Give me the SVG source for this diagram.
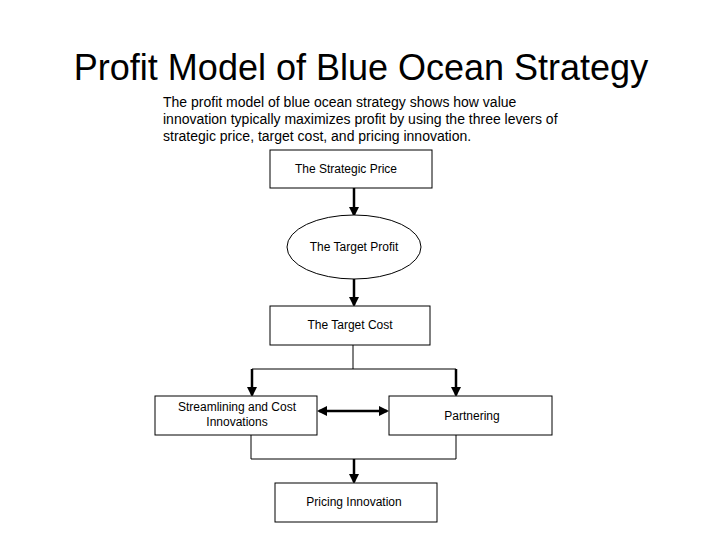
<svg xmlns="http://www.w3.org/2000/svg" width="720" height="540" viewBox="0 0 720 540">
<style>
text{font-family:"Liberation Sans",Arial,sans-serif;fill:#000}
.n{fill:#fff;stroke:#000;stroke-width:1}
.l{font-size:12px;text-anchor:middle}
.c{fill:none;stroke:#000;stroke-width:1}
.a{fill:none;stroke:#000;stroke-width:2.5}
</style>
<defs>
<marker id="ah" markerWidth="4" markerHeight="4" refX="3.2" refY="2" orient="auto" markerUnits="strokeWidth"><path d="M0,0 L4,2 L0,4 z" fill="#000"/></marker>
<marker id="as" markerWidth="4" markerHeight="4" refX="0.8" refY="2" orient="auto" markerUnits="strokeWidth"><path d="M4,0 L0,2 L4,4 z" fill="#000"/></marker>
</defs>
<rect width="720" height="540" fill="#fff"/>
<text x="361" y="80" font-size="36" text-anchor="middle">Profit Model of Blue Ocean Strategy</text>
<text font-size="14"><tspan x="163" y="107">The profit model of blue ocean strategy shows how value</tspan><tspan x="163" y="124">innovation typically maximizes profit by using the three levers of</tspan><tspan x="163" y="141">strategic price, target cost, and pricing innovation.</tspan></text>
<g id="connectors">
<line class="a" x1="354" y1="188" x2="354" y2="215" marker-end="url(#ah)"/>
<line class="a" x1="354" y1="279" x2="354" y2="305" marker-end="url(#ah)"/>
<polyline class="c" points="353,345 353,369"/>
<polyline class="c" points="252,369 456,369"/>
<line class="a" x1="252" y1="369" x2="252" y2="395" marker-end="url(#ah)"/>
<line class="a" x1="456" y1="369" x2="456" y2="395" marker-end="url(#ah)"/>
<line class="a" x1="319" y1="411" x2="387" y2="411" marker-start="url(#as)" marker-end="url(#ah)"/>
<polyline class="c" points="251,435 251,459 456,459 456,435"/>
<line class="a" x1="354" y1="459" x2="354" y2="482" marker-end="url(#ah)"/>
</g>
<g id="strategic-price"><rect class="n" x="270" y="150" width="162" height="38"/><text class="l" x="346" y="173">The Strategic Price</text></g>
<g id="target-profit"><ellipse class="n" cx="354" cy="247" rx="67" ry="32"/><text class="l" x="354" y="251">The Target Profit</text></g>
<g id="target-cost"><rect class="n" x="270" y="306" width="160" height="39"/><text class="l" x="350" y="329">The Target Cost</text></g>
<g id="streamlining"><rect class="n" x="155" y="396" width="162" height="39"/><text class="l"><tspan x="237" y="411">Streamlining and Cost</tspan><tspan x="237" y="426">Innovations</tspan></text></g>
<g id="partnering"><rect class="n" x="389" y="396" width="163" height="39"/><text class="l" x="472" y="420">Partnering</text></g>
<g id="pricing-innovation"><rect class="n" x="275" y="483" width="162" height="39"/><text class="l" x="354" y="506">Pricing Innovation</text></g>
</svg>
